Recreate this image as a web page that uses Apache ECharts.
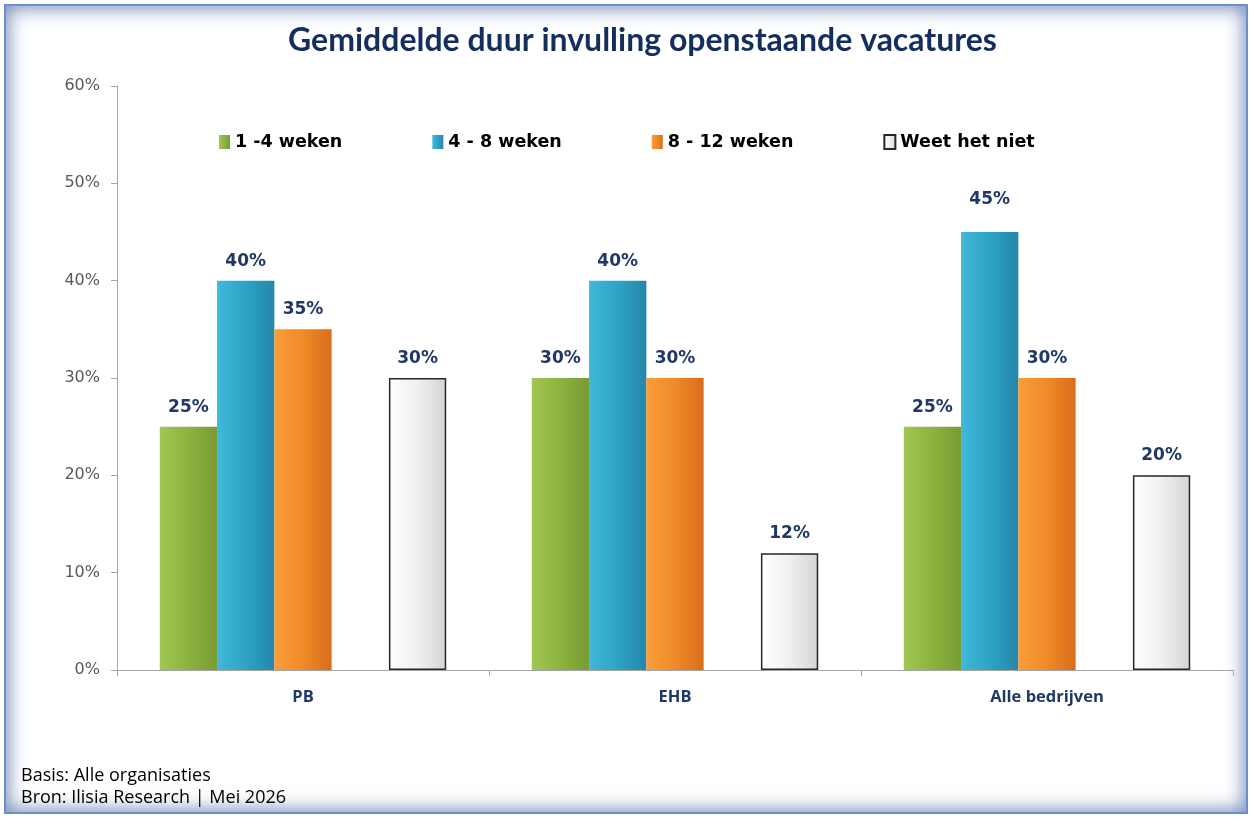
<!DOCTYPE html>
<html>
<head>
<meta charset="utf-8">
<script src="https://cdn.jsdelivr.net/npm/echarts@6/dist/echarts.min.js"></script>
<style>
  html, body { margin: 0; padding: 0; background: #fff; }
  .frame {
    position: absolute; left: 4px; top: 4px; width: 1240px; height: 806px;
    border: 2px solid #6d8fc8;
    box-shadow: inset 0 0 18px 3px rgba(80, 110, 170, 0.75);
    background: #fff;
  }
  #chart { position: absolute; left: 0; top: 0; width: 1252px; height: 818px; }
</style>
</head>
<body>
<div class="frame"></div>
<div id="chart"></div>
<script>
// data
const categories = ['PB', 'EHB', 'Alle bedrijven']
const seriesNames = ['1 -4 weken', '4 - 8 weken', '8 - 12 weken', 'Weet het niet']
const week1to4 = [25, 30, 25]
const week4to8 = [40, 40, 45]
const week8to12 = [35, 30, 30]
const weetNiet = [30, 12, 20]
const emptySlot = [null, null, null] // lege plek tussen oranje en wit
const yTicks = [0, 10, 20, 30, 40, 50, 60]

const navy = '#1f3864'

const grad = (a, b, c) => new echarts.graphic.LinearGradient(0, 0, 1, 0, [
  { offset: 0, color: a },
  { offset: 0.5, color: b },
  { offset: 1, color: c }
])

const label = {
  show: true,
  position: 'top',
  distance: 11,
  formatter: '{c}%',
  color: navy,
  fontFamily: 'DejaVu Sans',
  fontWeight: 'bold',
  fontSize: 17
}

const bar = (name, data, color, extra) => Object.assign({
  name: name,
  type: 'bar',
  data: data,
  barGap: '0%',
  barCategoryGap: '23%',
  label: label,
  itemStyle: { color: color },
  emphasis: { disabled: true }
}, extra || {})

// het label van 45% staat in het origineel wat hoger
const blueData = week4to8.map((v, i) => i === 2 ? { value: v, label: { distance: 24 } } : v)

const chart = echarts.init(document.getElementById('chart'))

const option = {
  backgroundColor: 'transparent',
  animation: false,
  title: {
    text: 'Gemiddelde duur invulling openstaande vacatures',
    left: 283,
    top: 20,
    textStyle: { fontFamily: 'Lato', fontWeight: 'bold', fontSize: 32, color: '#142f5e' }
  },
  legend: {
    data: seriesNames,
    icon: 'rect',
    left: 214,
    top: 128,
    itemWidth: 11,
    itemHeight: 14,
    itemGap: 90,
    textStyle: { fontFamily: 'DejaVu Sans', fontWeight: 'bold', fontSize: 17.5, color: '#000' }
  },
  grid: { left: 117, right: 19, top: 86, bottom: 148 },
  xAxis: {
    type: 'category',
    data: categories,
    axisLine: { lineStyle: { color: '#a6a6a6' } },
    axisTick: { show: true, length: 6, lineStyle: { color: '#a6a6a6' } },
    axisLabel: { margin: 19, fontFamily: 'Open Sans', fontWeight: 'bold', fontSize: 16.5, color: navy }
  },
  yAxis: {
    type: 'value',
    min: yTicks[0],
    max: yTicks[yTicks.length - 1],
    interval: 10,
    axisLine: { show: true, lineStyle: { color: '#a6a6a6' } },
    axisTick: { show: true, length: 6, lineStyle: { color: '#a6a6a6' } },
    splitLine: { show: false },
    axisLabel: { margin: 17, formatter: '{value}%', fontFamily: 'DejaVu Sans', fontSize: 16, color: '#595959' }
  },
  series: [
    bar(seriesNames[0], week1to4, grad('#a2c653', '#8db33f', '#789b34')),
    bar(seriesNames[1], blueData, grad('#40b8d9', '#2ea3c6', '#2486aa')),
    bar(seriesNames[2], week8to12, grad('#fa9c3a', '#f08a28', '#d96d1c')),
    bar('', emptySlot, '#fff', { label: { show: false } }),
    bar(seriesNames[3], weetNiet, null, {
      itemStyle: { color: grad('#ffffff', '#efefef', '#d4d4d4'), borderColor: '#262626', borderWidth: 1.5 }
    })
  ],
  graphic: [
    {
      type: 'text', left: 21, top: 767,
      style: { text: 'Basis: Alle organisaties', fontFamily: 'Open Sans', fontSize: 18, fill: '#000' }
    },
    {
      type: 'text', left: 21, top: 789,
      style: { text: 'Bron: Ilisia Research | Mei 2026', fontFamily: 'Open Sans', fontSize: 18, fill: '#000' }
    }
  ]
}

chart.setOption(option)
</script>
</body>
</html>
